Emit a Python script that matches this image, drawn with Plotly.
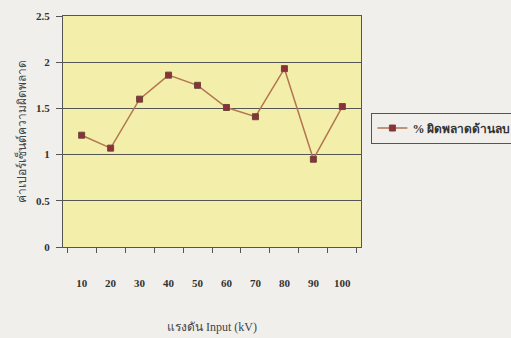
import plotly.graph_objects as go

categories = ["10", "20", "30", "40", "50", "60", "70", "80", "90", "100"]
values = [1.21, 1.07, 1.60, 1.86, 1.75, 1.51, 1.41, 1.93, 0.95, 1.52]
y_ticks = [0, 0.5, 1, 1.5, 2, 2.5]
y_tick_labels = ["0", "0.5", "1", "1.5", "2", "2.5"]
series_name = "% ผิดพลาดด้านลบ"
x_title = "แรงดัน Input (kV)"
y_title = "ค่าเปอร์เซ็นต์ความผิดพลาด"

fig = go.Figure()
fig.add_trace(go.Scatter(
    x=categories, y=values, mode="lines+markers", name=series_name,
    line=dict(color="#b27650", width=1.5),
    marker=dict(symbol="square", size=6, color="#8e2f3c",
                line=dict(color="#6a4a3a", width=1)),
))

font_main = "Liberation Serif, Noto Sans, serif"
fig.update_layout(
    width=511, height=338,
    margin=dict(l=63, r=150, t=16, b=91, autoexpand=False),
    paper_bgcolor="#f1efec",
    plot_bgcolor="#f3eeaa",
    showlegend=True,
    legend=dict(x=1.035, y=0.515, xanchor="left", yanchor="middle",
                bgcolor="rgba(0,0,0,0)", bordercolor="#555555", borderwidth=1,
                font=dict(family=font_main, size=12, color="#333333", weight="bold")),
    font=dict(family=font_main, color="#333333"),
)
fig.update_xaxes(
    type="category", tickson="boundaries", ticks="outside", ticklen=5,
    tickcolor="#555555", showline=True, linecolor="#555555", mirror=True,
    showgrid=False, ticklabelstandoff=26,
    tickfont=dict(family=font_main, size=11, color="#333333", weight="bold"),
    title=dict(text=x_title, font=dict(family=font_main, size=12, color="#444444"),
               standoff=34),
)
fig.update_yaxes(
    range=[0, 2.5], tickvals=y_ticks, ticktext=y_tick_labels,
    ticks="outside", ticklen=6, tickcolor="#555555",
    showline=True, linecolor="#555555", mirror=True,
    showgrid=True, gridcolor="#555555", gridwidth=1, zeroline=False,
    ticklabelstandoff=4,
    tickfont=dict(family=font_main, size=11, color="#333333", weight="bold"),
    title=dict(text=y_title, font=dict(family=font_main, size=12, color="#444444"),
               standoff=6),
)
fig.write_html("out.html")
